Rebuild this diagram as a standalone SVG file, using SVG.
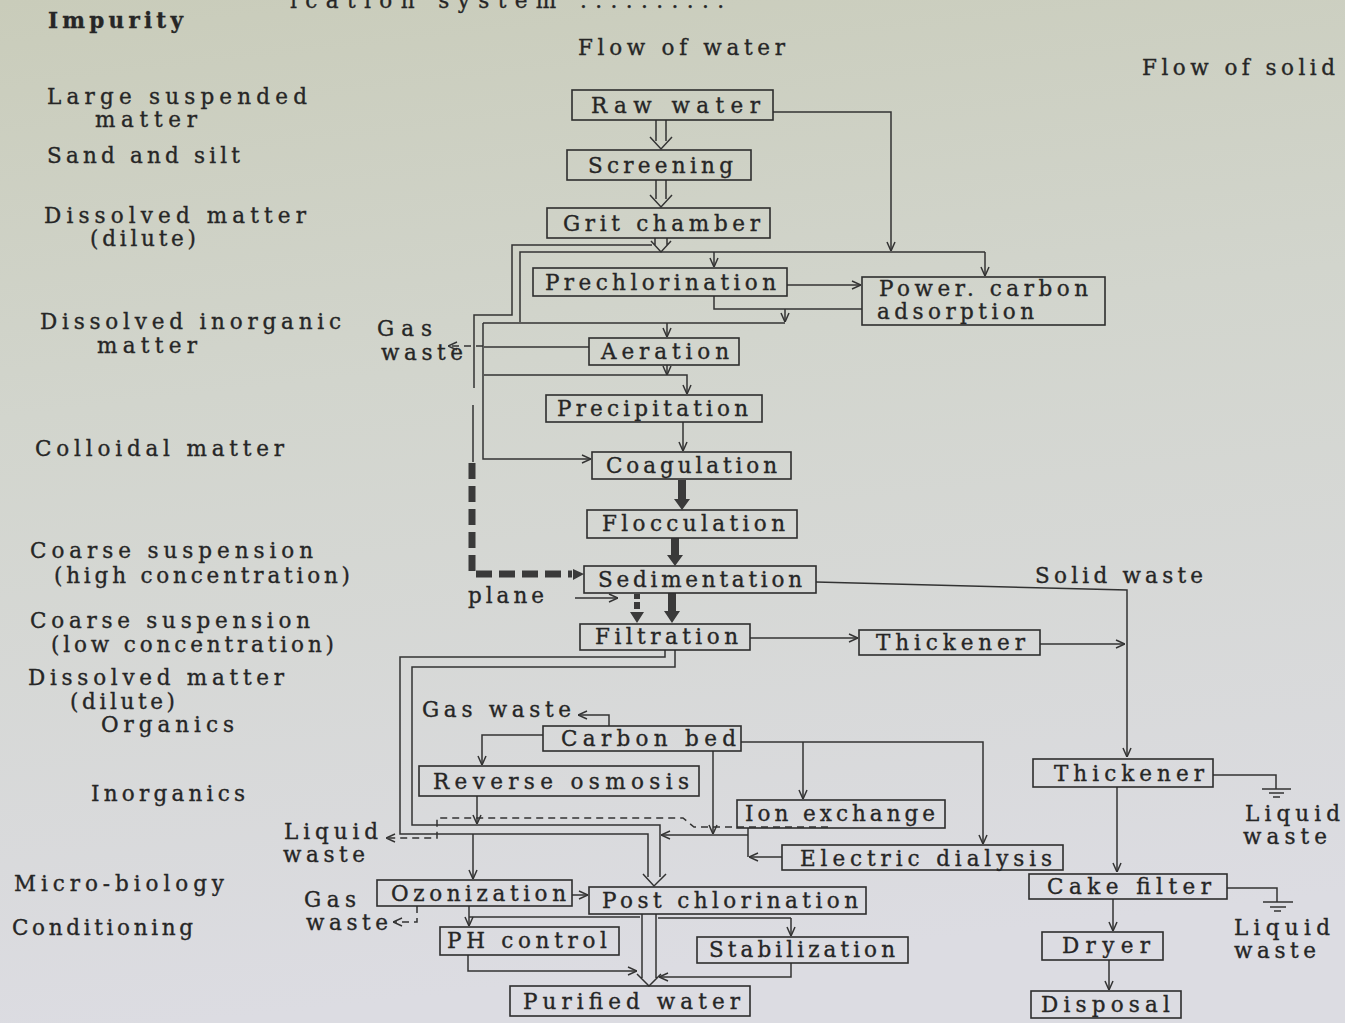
<svg xmlns="http://www.w3.org/2000/svg" width="1345" height="1023" viewBox="0 0 1345 1023">
<defs>
<linearGradient id="bg" x1="0" y1="0" x2="0.15" y2="1">
<stop offset="0" stop-color="#c9ccba"/>
<stop offset="0.4" stop-color="#d2d5cd"/>
<stop offset="1" stop-color="#dcdce2"/>
</linearGradient>
<marker id="a" viewBox="0 0 10 10" refX="10" refY="5" markerWidth="10" markerHeight="10" markerUnits="userSpaceOnUse" orient="auto">
<path d="M1,1 L10,5 L1,9" fill="none" stroke="#333" stroke-width="1.5"/>
</marker>
<style>
text{font-family:"DejaVu Serif","Liberation Serif",serif;font-size:21.5px;fill:#262626;stroke:#262626;stroke-width:0.35;}
.box{fill:none;stroke:#2e2e2e;stroke-width:1.6;}
.ln{fill:none;stroke:#333;stroke-width:1.5;}
.dl{fill:none;stroke:#333;stroke-width:1.5;stroke-dasharray:7 5;}
.thick{fill:#3a3a3a;}
.tdash{fill:none;stroke:#3a3a3a;stroke-width:7;stroke-dasharray:16 7;}
</style>
</defs>
<rect x="0" y="0" width="1345" height="1023" fill="url(#bg)"/>

<g id="headings">
<text x="290" y="8" textLength="434" lengthAdjust="spacing">ication system ..........</text>
<text x="48" y="28" textLength="135" lengthAdjust="spacing" style="font-weight:bold">Impurity</text>
<text x="578" y="55" textLength="207" lengthAdjust="spacing">Flow of water</text>
<text x="1142" y="75" textLength="193" lengthAdjust="spacing">Flow of solid</text>
</g>

<g id="impurities">
<text x="47" y="104" textLength="260" lengthAdjust="spacing">Large suspended</text>
<text x="95" y="127" textLength="102" lengthAdjust="spacing">matter</text>
<text x="47" y="163" textLength="193" lengthAdjust="spacing">Sand and silt</text>
<text x="44" y="223" textLength="262" lengthAdjust="spacing">Dissolved matter</text>
<text x="90" y="246" textLength="106" lengthAdjust="spacing">(dilute)</text>
<text x="40" y="329" textLength="301" lengthAdjust="spacing">Dissolved inorganic</text>
<text x="97" y="353" textLength="100" lengthAdjust="spacing">matter</text>
<text x="35" y="456" textLength="249" lengthAdjust="spacing">Colloidal matter</text>
<text x="30" y="558" textLength="283" lengthAdjust="spacing">Coarse suspension</text>
<text x="54" y="583" textLength="296" lengthAdjust="spacing">(high concentration)</text>
<text x="30" y="628" textLength="280" lengthAdjust="spacing">Coarse suspension</text>
<text x="51" y="652" textLength="283" lengthAdjust="spacing">(low concentration)</text>
<text x="28" y="685" textLength="256" lengthAdjust="spacing">Dissolved matter</text>
<text x="70" y="709" textLength="105" lengthAdjust="spacing">(dilute)</text>
<text x="101" y="732" textLength="133" lengthAdjust="spacing">Organics</text>
<text x="91" y="801" textLength="154" lengthAdjust="spacing">Inorganics</text>
<text x="14" y="891" textLength="210" lengthAdjust="spacing">Micro-biology</text>
<text x="12" y="935" textLength="181" lengthAdjust="spacing">Conditioning</text>
</g>

<g id="side-labels">
<text x="377" y="336" textLength="55" lengthAdjust="spacing">Gas</text>
<text x="381" y="360" textLength="82" lengthAdjust="spacing">waste</text>
<text x="468" y="603" textLength="76" lengthAdjust="spacing">plane</text>
<text x="1035" y="583" textLength="168" lengthAdjust="spacing">Solid waste</text>
<text x="284" y="839" textLength="94" lengthAdjust="spacing">Liquid</text>
<text x="283" y="862" textLength="82" lengthAdjust="spacing">waste</text>
<text x="422" y="717" textLength="149" lengthAdjust="spacing">Gas waste</text>
<text x="304" y="907" textLength="52" lengthAdjust="spacing">Gas</text>
<text x="306" y="930" textLength="82" lengthAdjust="spacing">waste</text>
<text x="1245" y="821" textLength="95" lengthAdjust="spacing">Liquid</text>
<text x="1243" y="844" textLength="84" lengthAdjust="spacing">waste</text>
<text x="1234" y="935" textLength="96" lengthAdjust="spacing">Liquid</text>
<text x="1234" y="958" textLength="82" lengthAdjust="spacing">waste</text>
</g>

<g id="connectors">
<path class="ln" d="M656,120 V141 M666,120 V141 M650,137 L661,149 L672,137"/>
<path class="ln" d="M656,180 V199 M666,180 V199 M650,195 L661,207 L672,195"/>
<path class="ln" d="M655,238 V245 M667,238 V245 M651,241 L661,252 L671,241"/>
<path class="ln" d="M652,245 H512 V315 H474 V388 M473,405 V462"/>
<path class="ln" d="M520,322 V252 H985"/>
<path class="ln" d="M985,252 V276" marker-end="url(#a)"/>
<path class="ln" d="M773,112 H891 V251" marker-end="url(#a)"/>
<path class="ln" d="M714,252 V267" marker-end="url(#a)"/>
<path class="ln" d="M787,285 H861" marker-end="url(#a)"/>
<path class="ln" d="M714,296 V309 H862"/>
<path class="ln" d="M785,309 V322" marker-end="url(#a)"/>
<path class="ln" d="M483,323 H785"/>
<path class="ln" d="M483,323 V459 H591" marker-end="url(#a)"/>
<path class="ln" d="M667,323 V337" marker-end="url(#a)"/>
<path class="ln" d="M589,347 H484"/>
<path class="dl" d="M483,346 H448" marker-end="url(#a)"/>
<path class="ln" d="M667,365 V375" marker-end="url(#a)"/>
<path class="ln" d="M484,375 H687 V394" marker-end="url(#a)"/>
<path class="ln" d="M683,422 V451" marker-end="url(#a)"/>
<path class="thick" d="M678,480 H686 V499 H690 L682,510 L674,499 H678 Z"/>
<path class="thick" d="M671,538 H679 V555 H683 L675,566 L667,555 H671 Z"/>
<path class="thick" d="M668,593 H676 V611 H680 L672,623 L664,611 H668 Z"/>
<path class="thick" d="M634,594 h6 v5 h-6 Z M634,602 h6 v7 h-6 Z M630,612 H644 L637,623 Z"/>
<path class="tdash" d="M472,463 V574 H572"/>
<path class="thick" d="M573,569 L584,574 L573,580 Z"/>
<path class="ln" d="M575,598 H618" marker-end="url(#a)"/>
<path class="ln" d="M816,582 L1127,590 V757" marker-end="url(#a)"/>
<path class="ln" d="M750,638 H858" marker-end="url(#a)"/>
<path class="ln" d="M1040,644 H1125" marker-end="url(#a)"/>
<path class="ln" d="M1213,775 H1276 V789 M1262,789 H1291 M1269,793 H1284 M1273,797 H1280"/>
<path class="ln" d="M1117,787 V872" marker-end="url(#a)"/>
<path class="ln" d="M1227,888 H1277 V902 M1263,902 H1293 M1270,907 H1286 M1274,911 H1281"/>
<path class="ln" d="M1113,899 V931" marker-end="url(#a)"/>
<path class="ln" d="M1109,960 V990" marker-end="url(#a)"/>
<path class="ln" d="M665,650 V657 H400 V834 H648 V877"/>
<path class="ln" d="M675,650 V667 H412 V825 H660 V877"/>
<path class="ln" d="M643,874 L654,886 L666,874"/>
<path class="ln" d="M609,726 V715 H578" marker-end="url(#a)"/>
<path class="ln" d="M543,735 H482 V765" marker-end="url(#a)"/>
<path class="ln" d="M741,742 H983 V844" marker-end="url(#a)"/>
<path class="ln" d="M803,742 V799" marker-end="url(#a)"/>
<path class="ln" d="M713,751 V834" marker-end="url(#a)"/>
<path class="ln" d="M477,796 V824" marker-end="url(#a)"/>
<path class="ln" d="M473,834 V879" marker-end="url(#a)"/>
<path class="dl" d="M828,827 H694 L683,818 H437 V838 H386" marker-end="url(#a)"/>
<path class="ln" d="M748,828 V857"/>
<path class="ln" d="M782,857 H749" marker-end="url(#a)"/>
<path class="ln" d="M748,835 H661" marker-end="url(#a)"/>
<path class="ln" d="M572,895 H588" marker-end="url(#a)"/>
<path class="dl" d="M417,906 V922 H393" marker-end="url(#a)"/>
<path class="ln" d="M469,906 V926" marker-end="url(#a)"/>
<path class="ln" d="M469,917 H640 M658,918 H791"/>
<path class="ln" d="M791,918 V936" marker-end="url(#a)"/>
<path class="ln" d="M642,914 V978 M656,914 V978 M637,974 L649,986 L661,974"/>
<path class="ln" d="M468,955 V971 H637" marker-end="url(#a)"/>
<path class="ln" d="M791,963 V977 H659" marker-end="url(#a)"/>
</g>

<g id="n-raw"><rect class="box" x="572" y="90" width="201" height="30"/><text x="591" y="113" textLength="169" lengthAdjust="spacing">Raw  water</text></g>
<g id="n-screening"><rect class="box" x="567" y="150" width="184" height="30"/><text x="588" y="173" textLength="145" lengthAdjust="spacing">Screening</text></g>
<g id="n-grit"><rect class="box" x="547" y="208" width="223" height="30"/><text x="563" y="231" textLength="197" lengthAdjust="spacing">Grit chamber</text></g>
<g id="n-prechlor"><rect class="box" x="533" y="268" width="254" height="28"/><text x="545" y="290" textLength="231" lengthAdjust="spacing">Prechlorination</text></g>
<g id="n-pca"><rect class="box" x="862" y="277" width="243" height="48"/><text x="879" y="296" textLength="209" lengthAdjust="spacing">Power. carbon</text><text x="877" y="319" textLength="157" lengthAdjust="spacing">adsorption</text></g>
<g id="n-aeration"><rect class="box" x="589" y="338" width="150" height="27"/><text x="601" y="359" textLength="128" lengthAdjust="spacing">Aeration</text></g>
<g id="n-precip"><rect class="box" x="546" y="395" width="216" height="27"/><text x="557" y="416" textLength="191" lengthAdjust="spacing">Precipitation</text></g>
<g id="n-coag"><rect class="box" x="592" y="452" width="199" height="27"/><text x="606" y="473" textLength="171" lengthAdjust="spacing">Coagulation</text></g>
<g id="n-floc"><rect class="box" x="587" y="510" width="210" height="28"/><text x="602" y="531" textLength="183" lengthAdjust="spacing">Flocculation</text></g>
<g id="n-sed"><rect class="box" x="584" y="566" width="232" height="27"/><text x="598" y="587" textLength="204" lengthAdjust="spacing">Sedimentation</text></g>
<g id="n-filt"><rect class="box" x="580" y="624" width="170" height="26"/><text x="595" y="644" textLength="143" lengthAdjust="spacing">Filtration</text></g>
<g id="n-thick1"><rect class="box" x="859" y="630" width="181" height="25"/><text x="876" y="650" textLength="149" lengthAdjust="spacing">Thickener</text></g>
<g id="n-carbon"><rect class="box" x="543" y="726" width="198" height="25"/><text x="561" y="746" textLength="175" lengthAdjust="spacing">Carbon bed</text></g>
<g id="n-ro"><rect class="box" x="419" y="766" width="280" height="30"/><text x="433" y="789" textLength="256" lengthAdjust="spacing">Reverse osmosis</text></g>
<g id="n-ion"><rect class="box" x="737" y="800" width="208" height="28"/><text x="745" y="821" textLength="190" lengthAdjust="spacing">Ion exchange</text></g>
<g id="n-ed"><rect class="box" x="782" y="845" width="281" height="25"/><text x="800" y="866" textLength="252" lengthAdjust="spacing">Electric dialysis</text></g>
<g id="n-thick2"><rect class="box" x="1033" y="759" width="180" height="28"/><text x="1054" y="781" textLength="150" lengthAdjust="spacing">Thickener</text></g>
<g id="n-cake"><rect class="box" x="1029" y="874" width="198" height="25"/><text x="1047" y="894" textLength="164" lengthAdjust="spacing">Cake filter</text></g>
<g id="n-dryer"><rect class="box" x="1042" y="932" width="121" height="28"/><text x="1062" y="953" textLength="88" lengthAdjust="spacing">Dryer</text></g>
<g id="n-disposal"><rect class="box" x="1031" y="991" width="150" height="27"/><text x="1041" y="1012" textLength="129" lengthAdjust="spacing">Disposal</text></g>
<g id="n-ozon"><rect class="box" x="377" y="880" width="195" height="26"/><text x="391" y="901" textLength="175" lengthAdjust="spacing">Ozonization</text></g>
<g id="n-postcl"><rect class="box" x="589" y="887" width="277" height="27"/><text x="602" y="908" textLength="256" lengthAdjust="spacing">Post chlorination</text></g>
<g id="n-ph"><rect class="box" x="440" y="927" width="179" height="28"/><text x="447" y="948" textLength="160" lengthAdjust="spacing">PH control</text></g>
<g id="n-stab"><rect class="box" x="697" y="937" width="211" height="26"/><text x="709" y="957" textLength="186" lengthAdjust="spacing">Stabilization</text></g>
<g id="n-purified"><rect class="box" x="510" y="986" width="240" height="30"/><text x="523" y="1009" textLength="217" lengthAdjust="spacing">Purified water</text></g>
</svg>
